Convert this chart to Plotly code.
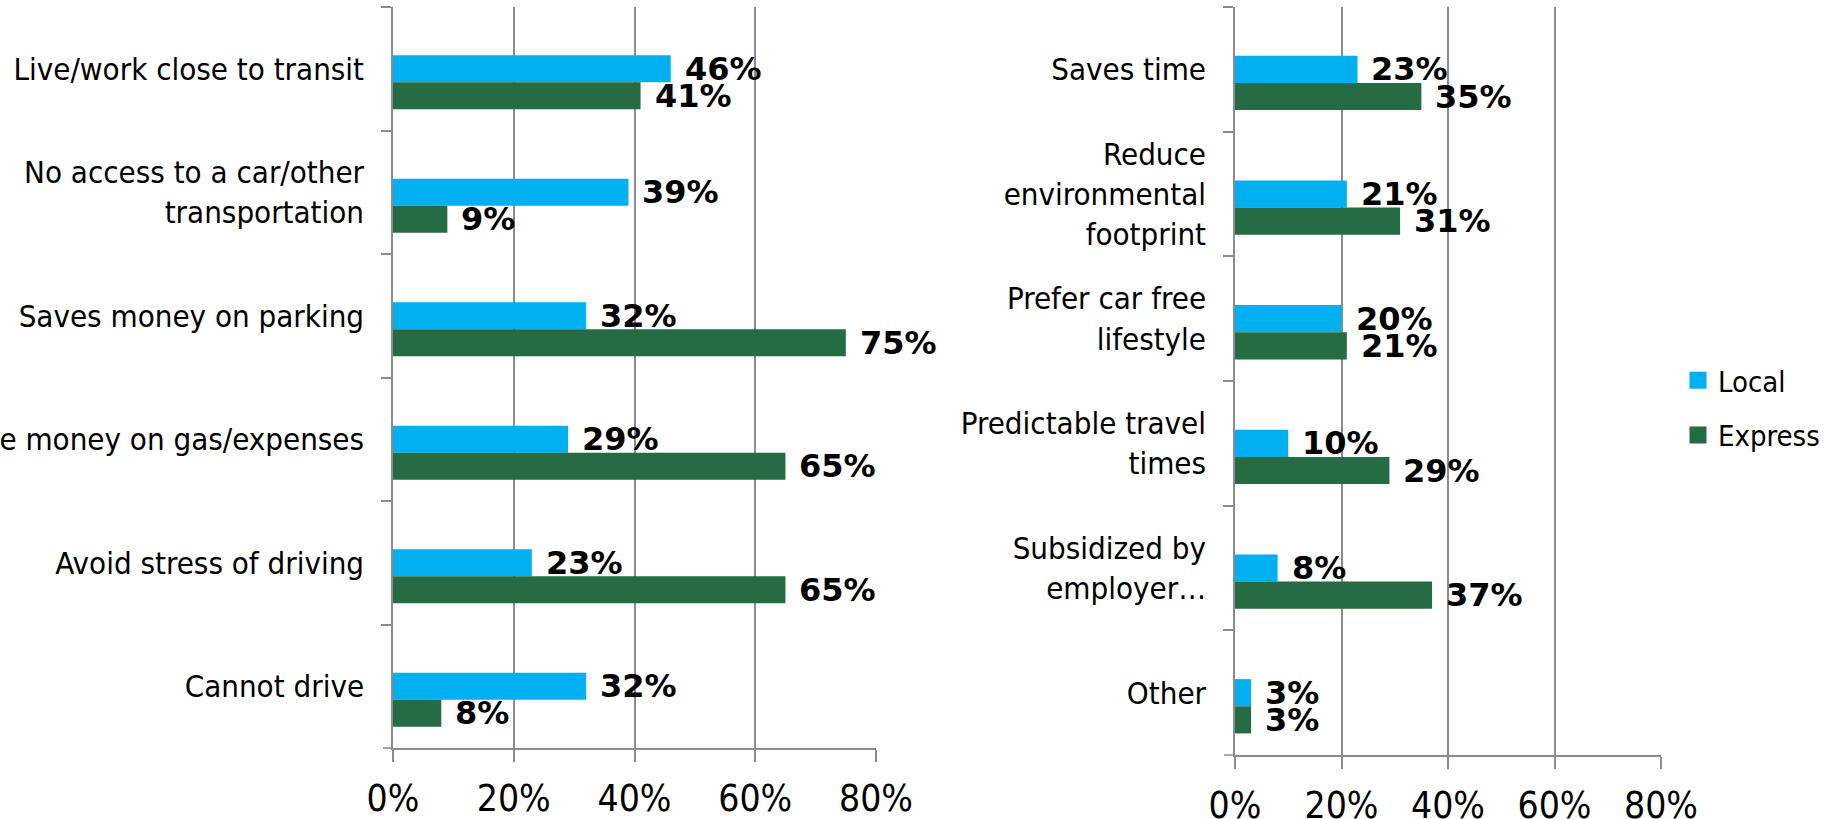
import plotly.graph_objects as go

# Reasons for riding: left panel
left_categories = [
    "Live/work close to transit",
    "No access to a car/other<br>transportation",
    "Saves money on parking",
    "Save money on gas/expenses",
    "Avoid stress of driving",
    "Cannot drive",
]
left_local = [46, 39, 32, 29, 23, 32]
left_express = [41, 9, 75, 65, 65, 8]

# Reasons for riding: right panel
right_categories = [
    "Saves time",
    "Reduce<br>environmental<br>footprint",
    "Prefer car free<br>lifestyle",
    "Predictable travel<br>times",
    "Subsidized by<br>employer…",
    "Other",
]
right_local = [23, 21, 20, 10, 8, 3]
right_express = [35, 31, 21, 29, 37, 3]

x_ticks = [0, 20, 40, 60, 80]
x_tick_labels = ["0%", "20%", "40%", "60%", "80%"]

LOCAL_COLOR = "#00B0F0"
EXPRESS_COLOR = "#256B44"
GRID_COLOR = "#8C8C8C"
FONT = "DejaVu Sans Condensed, Liberation Sans, sans-serif"
BOLD_FONT = "DejaVu Sans"
BAR_W = 0.218  # bar thickness in category units

fig = go.Figure()

panels = [
    ("x", "y", left_categories, left_local, left_express),
    ("x2", "y2", right_categories, right_local, right_express),
]

# Local bar sits on the category centre, Express directly beneath it
for xa, ya, cats, loc, exp in panels:
    fig.add_trace(go.Bar(
        y=cats, x=loc, orientation="h", name="Local",
        width=BAR_W, offset=-BAR_W / 2,
        marker=dict(color=LOCAL_COLOR, line=dict(width=0)),
        xaxis=xa, yaxis=ya, showlegend=False,
    ))
    fig.add_trace(go.Bar(
        y=cats, x=exp, orientation="h", name="Express",
        width=BAR_W, offset=BAR_W / 2,
        marker=dict(color=EXPRESS_COLOR, line=dict(width=0)),
        xaxis=xa, yaxis=ya, showlegend=False,
    ))

# Legend-only entries with larger swatches
for name, color in (("Local", LOCAL_COLOR), ("Express", EXPRESS_COLOR)):
    fig.add_trace(go.Bar(
        y=[None], x=[None], orientation="h", name=name,
        marker=dict(color=color, line=dict(color=color, width=5)),
        xaxis="x2", yaxis="y2", showlegend=True, legendgroup=name,
        hoverinfo="skip",
    ))

# Bold value labels just past the end of each bar
annotations = []
for xa, ya, cats, loc, exp in panels:
    for i, (a, b) in enumerate(zip(loc, exp)):
        for val, pos in ((a, i), (b, i + BAR_W)):
            annotations.append(dict(
                x=val, y=pos, xref=xa, yref=ya,
                text=f"<b>{val}%</b>", showarrow=False,
                xanchor="left", yanchor="middle", xshift=12,
                font=dict(family=BOLD_FONT, size=32, color="black"),
            ))

# Short extension of each baseline out to the category tick marks
shapes = []
for x0, x1, yref in ((383, 393, "y domain"), (1224, 1235, "y2 domain")):
    shapes.append(dict(
        type="line", xref="paper", yref=yref,
        x0=x0 / 1829, x1=x1 / 1829, y0=0, y1=0,
        line=dict(color=GRID_COLOR, width=1.5),
    ))

xaxis_common = dict(
    range=[0, 80], tickvals=x_ticks, ticktext=x_tick_labels,
    showgrid=True, gridcolor=GRID_COLOR, gridwidth=1.5,
    showline=True, linecolor=GRID_COLOR, linewidth=1.5,
    ticks="outside", ticklen=12, tickcolor=GRID_COLOR, tickwidth=1.5,
    tickfont=dict(family=FONT, size=37, color="black"),
    ticklabelstandoff=5, zeroline=False, fixedrange=True,
    automargin=False,
)
yaxis_common = dict(
    type="category", autorange="reversed",
    showline=True, linecolor=GRID_COLOR, linewidth=1.5,
    ticks="outside", tickson="boundaries", ticklen=10,
    tickcolor=GRID_COLOR, tickwidth=1.5,
    tickfont=dict(family=FONT, size=31, color="black"),
    ticklabelstandoff=21, showgrid=False, fixedrange=True,
    automargin=False,
)

fig.update_layout(
    width=1829, height=819,
    margin=dict(l=0, r=0, t=0, b=0),
    paper_bgcolor="white", plot_bgcolor="white",
    barmode="overlay",
    font=dict(family=FONT, color="black"),
    xaxis=dict(domain=[393 / 1829, 876 / 1829], anchor="y", **xaxis_common),
    yaxis=dict(domain=[1 - 748 / 819, 1 - 7 / 819], anchor="x", **yaxis_common),
    xaxis2=dict(domain=[1235 / 1829, 1661 / 1829], anchor="y2", **xaxis_common),
    yaxis2=dict(domain=[1 - 755 / 819, 1 - 7 / 819], anchor="x2", **yaxis_common),
    legend=dict(
        x=1678 / 1829, y=1 - 355 / 819, xanchor="left", yanchor="top",
        font=dict(family=FONT, size=29, color="black"),
        traceorder="grouped", tracegroupgap=14,
        bgcolor="rgba(0,0,0,0)", itemwidth=30,
    ),
    annotations=annotations,
    shapes=shapes,
)

fig.write_html("out.html")
